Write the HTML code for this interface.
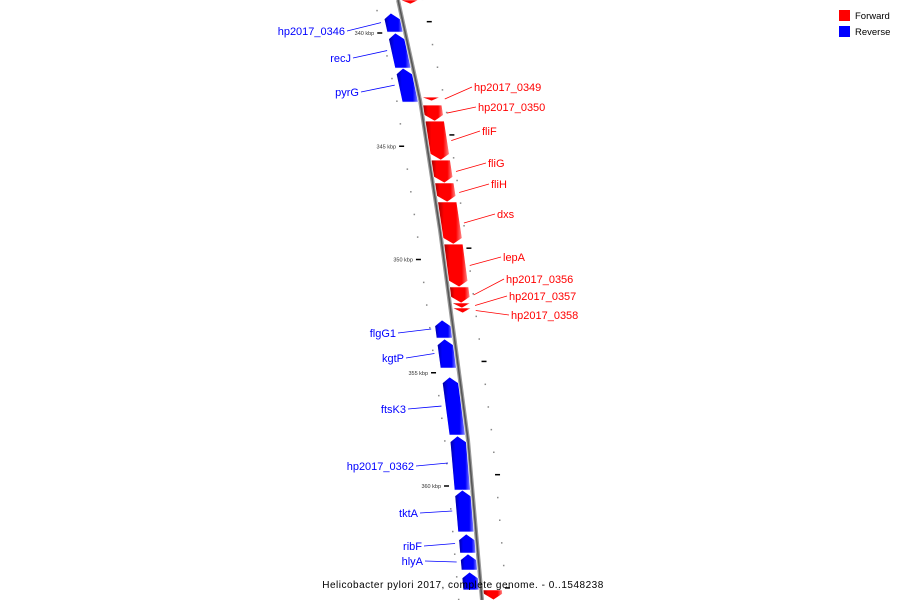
<!DOCTYPE html>
<html><head><meta charset="utf-8"><style>
html,body{margin:0;background:#fff;overflow:hidden;width:900px;height:600px;}
svg{display:block;font-family:"Liberation Sans",sans-serif;overflow:hidden;}
</style></head><body>
<svg id="map" width="900" height="600" viewBox="0 0 900 600">
<defs>
<linearGradient id="gr" x1="0" x2="1"><stop offset="0" stop-color="#a00000"/><stop offset="0.25" stop-color="#f00"/><stop offset="0.75" stop-color="#f00"/><stop offset="1" stop-color="#ff9090"/></linearGradient>
<linearGradient id="gb" x1="0" x2="1"><stop offset="0" stop-color="#0000a0"/><stop offset="0.25" stop-color="#00f"/><stop offset="0.75" stop-color="#00f"/><stop offset="1" stop-color="#9090ff"/></linearGradient>
</defs>
<g id="ticks"></g>
<g id="backbone"></g>
<g id="features"></g>
<g id="labels"></g>
<g>
<rect x="839" y="10" width="11" height="11" fill="#f00"/>
<text x="855" y="19" font-size="9.5">Forward</text>
<rect x="839" y="26" width="11" height="11" fill="#00f"/>
<text x="855" y="35" font-size="9.5">Reverse</text>
</g>
<text x="463" y="588" font-size="10" text-anchor="middle" letter-spacing="0.5">Helicobacter pylori 2017, complete genome. - 0..1548238</text>
</svg>
<script>
// gene data (kbp)
const geneNames=["hp2017_0346","recJ","pyrG","flgG1","kgtP","ftsK3","hp2017_0362","tktA","ribF","hlyA","","","hp2017_0349","hp2017_0350","fliF","fliG","fliH","dxs","lepA","hp2017_0356","hp2017_0357","hp2017_0358",""];
const geneStart=[339.12,340.0,341.55,352.67,353.51,355.19,357.79,360.18,362.12,363.0,363.8,338.54,342.83,343.18,343.89,345.61,346.62,347.46,349.32,351.21,351.92,352.14,364.59];
const geneEnd=[339.96,341.55,343.05,353.47,354.79,357.75,360.18,362.03,362.96,363.71,364.59,338.72,343.0,343.89,345.61,346.62,347.46,349.32,351.21,351.92,352.14,352.36,365.03];
const geneStrand=[-1,-1,-1,-1,-1,-1,-1,-1,-1,-1,-1,1,1,1,1,1,1,1,1,1,1,1,1];
const labelY=[31,58,92,333,358,409,466,513,546,561,null,null,87,107,131,163,184,214,257,279,296,315,null];
const labelX=[345,351,359,396,404,406,414,418,422,423,null,null,474,478,482,488,491,497,503,506,509,511,null];
const majorTicks=[340,345,350,355,360];
const tickLabels=["340 kbp","345 kbp","350 kbp","355 kbp","360 kbp"];

const NS="http://www.w3.org/2000/svg";
const bbPts=[[398,0],[420,100],[440,230],[460,380],[468,440],[482,600]];
function bx(y){for(let i=0;i<bbPts.length-1;i++){const a=bbPts[i],b=bbPts[i+1];if(y<=b[1]||i==bbPts.length-2){return a[0]+(b[0]-a[0])*(y-a[1])/(b[1]-a[1]);}}}
function yOf(k){return 33+(k-340)*22.65;}
function mk(tag,attrs,parent){const e=document.createElementNS(NS,tag);for(const k in attrs)e.setAttribute(k,attrs[k]);parent.appendChild(e);return e;}

const bb=document.getElementById('backbone');
const bl=mk('polyline',{points:bbPts.map(p=>p.join(',')).join(' '),fill:'none',stroke:'#999',"stroke-width":4},bb);


const bl2=mk('polyline',{points:bbPts.map(p=>p.join(',')).join(' '),fill:'none',stroke:'#555',"stroke-width":1.5},bb);



const tg=document.getElementById('ticks');
for(let k=338;k<=366;k+=1){
  const y=yOf(k);if(y<-5||y>605)continue;
  const major=majorTicks.includes(k);
  const xl=bx(y)-23;
  if(major){
    const t=mk('line',{x1:xl-5,y1:y,x2:xl,y2:y,stroke:'#000',"stroke-width":1.5},tg);
    
    
    const lab=mk('text',{x:xl-8,y:y+2,"font-size":5.5,"text-anchor":"end",fill:'#333'},tg);
    lab.textContent=tickLabels[majorTicks.indexOf(k)];
    
    
  } else {
    const d=mk('rect',{x:xl-1,y:y-0.5,width:1.5,height:1.5,fill:'#888'},tg);
    
    
  }
  const ky=yOf(k-0.5);
  const xr=bx(ky)+24;
  if((k-0.5-339.5)%5===0){
    const t=mk('line',{x1:xr,y1:ky,x2:xr+5,y2:ky,stroke:'#000',"stroke-width":1.5},tg);
    
    
  } else {
    const d=mk('rect',{x:xr,y:ky-0.5,width:1.5,height:1.5,fill:'#888'},tg);
    
    
  }
}

const fg=document.getElementById('features'),lg=document.getElementById('labels');
for(let i=0;i<geneStart.length;i++){
  const y1=yOf(geneStart[i]),y2=yOf(geneEnd[i]);
  const s=geneStrand[i];
  const o1=s<0?-18:2,o2=s<0?-2:21;
  const L=Math.min(6,(y2-y1));
  let pts;
  const X=(y,o)=>(bx(y)+o).toFixed(1);
  const ym=(o1+o2)/2;
  if(s<0){
    pts=[[X(y1,ym),y1],[X(y1+L,o2),y1+L],[X(y2,o2),y2],[X(y2,o1),y2],[X(y1+L,o1),y1+L]];
  } else {
    pts=[[X(y1,o1),y1],[X(y1,o2),y1],[X(y2-L,o2),y2-L],[X(y2,ym),y2],[X(y2-L,o1),y2-L]];
  }
  const p=mk('polygon',{points:pts.map(q=>q.join(',')).join(' '),fill:s<0?'url(#gb)':'url(#gr)',stroke:'#fff',"stroke-width":0.6},fg);
  
  
  if(labelY[i]!=null){
    const col=s<0?'#00f':'#f00';
    const gm=(y1+y2)/2;
    const ly=labelY[i],tx=labelX[i];
    const t=mk('text',{"font-size":11,fill:col,"text-anchor":s<0?'end':'start',x:tx,y:ly+4},lg);
    t.textContent=geneNames[i];
    
    
    if(s<0){
      const l=mk('line',{x1:tx+2,y1:ly,x2:bx(gm)-22,y2:gm,stroke:col,"stroke-width":0.8},lg);
      
      
    } else {
      const l=mk('line',{x1:bx(gm)+25,y1:gm,x2:tx-2,y2:ly,stroke:col,"stroke-width":0.8},lg);
      
      
    }
  }
}
</script>
</body></html>
